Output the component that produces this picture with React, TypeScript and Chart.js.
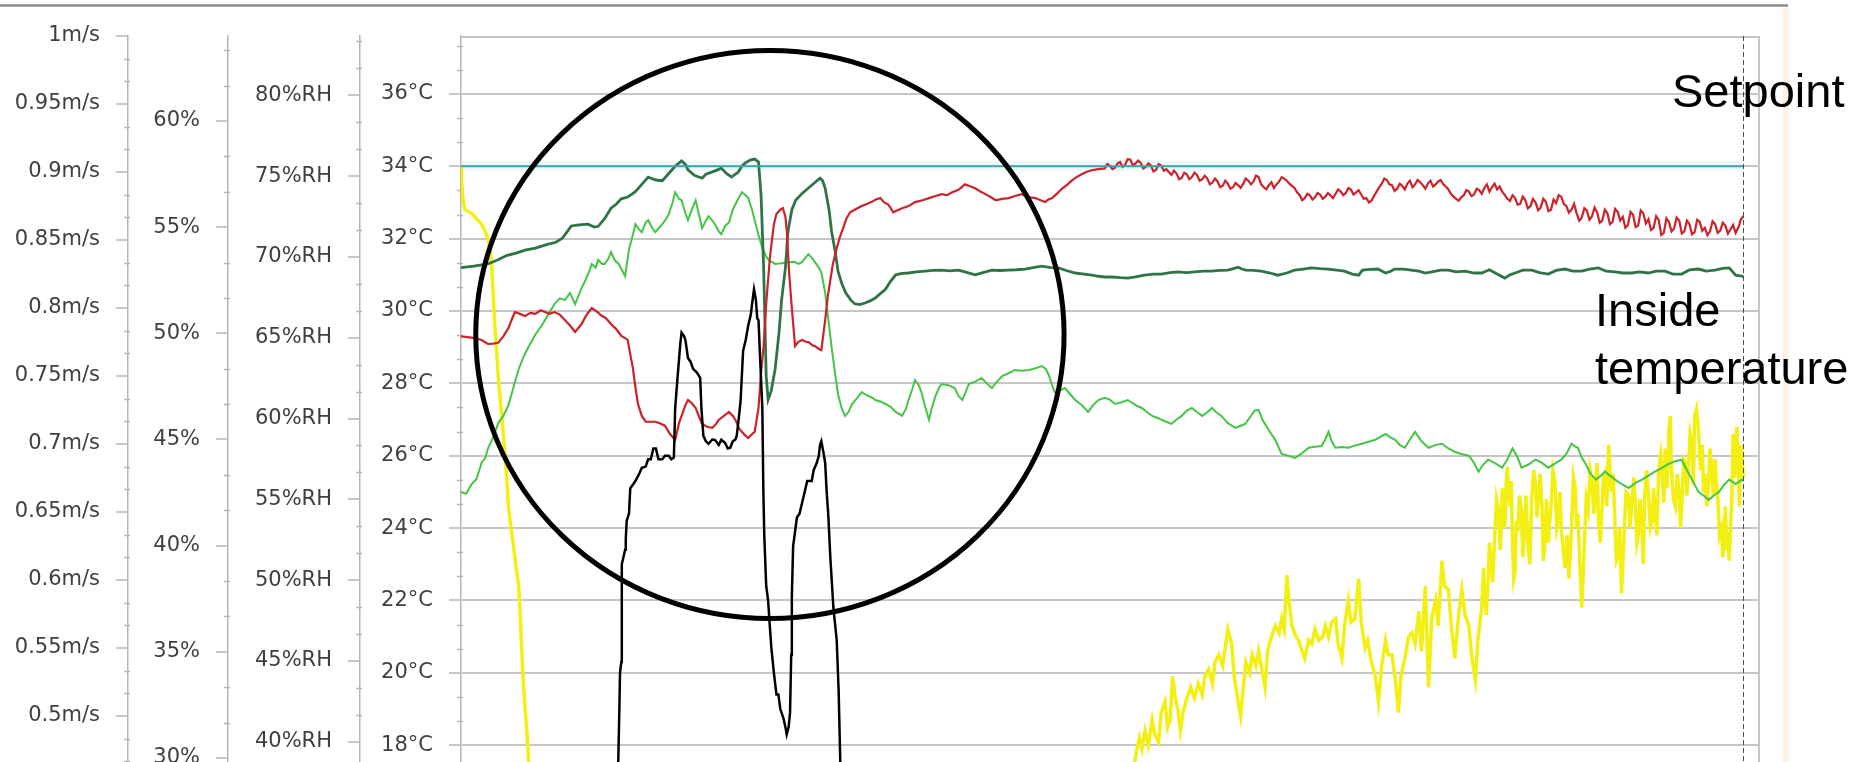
import { useEffect, useRef } from 'react';
import { Chart, registerables } from 'chart.js';

Chart.register(...registerables);

// Major tick values of the four stacked left axes
const velocityTicks = [1, 0.95, 0.9, 0.85, 0.8, 0.75, 0.7, 0.65, 0.6, 0.55, 0.5];
const percentTicks = [60, 55, 50, 45, 40, 35, 30];
const humidityTicks = [80, 75, 70, 65, 60, 55, 50, 45, 40];
const temperatureTicks = [36, 34, 32, 30, 28, 26, 24, 22, 20, 18];

// Axis ranges [min, max]
const velocityRange = [0.4519, 1.0];
const percentRange = [28.9, 64.0];
const humidityRange = [37.55, 83.67];
const temperatureRange = [17.0, 37.6];
const timeRange = [0, 1013];
const cursorTime = 1000;

// Series: [time, °C]
const setpoint: [number, number][] = [[0, 34], [1000, 34]];

const darkGreen: [number, number][] = [
  [0, 31.2], [10, 31.24], [21, 31.3], [28, 31.4], [36, 31.54], [43, 31.6], [50, 31.68], [58, 31.74],
  [68, 31.85], [74, 31.9], [79, 32.01], [83, 32.2], [86, 32.35], [92, 32.38], [99, 32.4], [104, 32.32],
  [107, 32.34], [112, 32.55], [117, 32.84], [121, 32.95], [125, 33.1], [130, 33.15], [136, 33.3],
  [141, 33.5], [146, 33.7], [152, 33.62], [157, 33.6], [162, 33.8], [167, 34.0], [172, 34.15],
  [175, 34.05], [177, 33.9], [182, 33.75], [188, 33.67], [191, 33.78], [195, 33.83], [200, 33.9],
  [203, 33.95], [207, 33.8], [211, 33.7], [214, 33.78], [216, 33.83], [219, 34.0], [222, 34.1],
  [226, 34.18], [229, 34.2], [232, 34.12], [234, 33.2], [236, 31.2], [238, 28.2], [239.5, 27.55],
  [242, 27.8], [245, 28.4], [248, 29.4], [250, 30.3], [253, 31.2], [255, 32.2], [258, 32.8],
  [261, 33.06], [266, 33.25], [271, 33.4], [276, 33.55], [280, 33.67], [282, 33.6], [284, 33.39],
  [287, 32.8], [289, 32.2], [292, 31.6], [294, 31.1], [297, 30.75], [300, 30.5], [304, 30.3],
  [307, 30.2], [311, 30.18], [315, 30.22], [319, 30.28], [323, 30.36], [327, 30.48], [331, 30.6],
  [335, 30.82], [339, 31.0], [344, 31.04], [349, 31.05], [355, 31.08], [362, 31.1], [368, 31.12],
  [375, 31.13], [381, 31.11], [388, 31.13], [395, 31.06], [401, 31.0], [407, 31.06], [414, 31.13],
  [420, 31.12], [427, 31.13], [433, 31.14], [440, 31.16], [446, 31.2], [453, 31.24], [460, 31.2],
  [466, 31.19], [472, 31.12], [479, 31.05], [486, 31.02], [492, 30.99], [497, 30.96], [502, 30.94],
  [508, 30.94], [514, 30.92], [520, 30.91], [527, 30.95], [533, 30.99], [540, 31.02], [546, 31.02],
  [553, 31.06], [559, 31.08], [566, 31.06], [572, 31.08], [579, 31.1], [585, 31.1], [592, 31.12],
  [598, 31.13], [603, 31.18], [606, 31.21], [609, 31.16], [612, 31.13], [618, 31.12], [624, 31.1],
  [631, 31.05], [637, 30.99], [644, 31.05], [650, 31.13], [657, 31.16], [663, 31.19], [670, 31.17],
  [676, 31.16], [683, 31.13], [689, 31.1], [695, 31.02], [700, 30.99], [703, 31.13], [709, 31.15],
  [715, 31.16], [721, 31.05], [725, 31.1], [728, 31.16], [735, 31.16], [741, 31.13], [747, 31.1],
  [752, 31.05], [758, 31.09], [764, 31.13], [770, 31.13], [776, 31.08], [783, 31.1], [790, 31.05],
  [796, 31.05], [802, 31.14], [808, 31.02], [814, 30.91], [818, 31.0], [822, 31.05], [828, 31.13],
  [835, 31.13], [841, 31.06], [848, 31.02], [854, 31.12], [861, 31.16], [867, 31.1], [874, 31.1],
  [880, 31.16], [887, 31.19], [893, 31.1], [900, 31.08], [906, 31.05], [913, 31.05], [919, 31.08],
  [926, 31.05], [932, 31.1], [939, 31.1], [945, 31.02], [952, 31.02], [958, 31.14], [965, 31.16],
  [971, 31.1], [978, 31.13], [984, 31.18], [989, 31.19], [994, 30.99], [1000, 30.96],
];

const lightGreen: [number, number][] = [
  [0, 25.0], [4, 24.95], [8, 25.2], [12, 25.35], [16, 25.8], [19, 25.95], [21, 26.2], [25, 26.5],
  [29, 26.9], [33, 27.1], [37, 27.4], [41, 27.9], [45, 28.4], [49, 28.75], [52.5, 29.0], [58, 29.35],
  [63, 29.6], [68, 29.9], [73, 30.2], [77, 30.35], [81, 30.3], [85, 30.5], [89, 30.19], [93, 30.55],
  [97, 30.85], [100, 31.1], [102, 31.3], [105, 31.2], [107, 31.41], [110, 31.3], [112, 31.3],
  [115, 31.45], [117, 31.63], [120, 31.4], [123, 31.3], [126, 31.1], [128, 30.96], [131, 31.7],
  [134, 32.1], [136, 32.4], [139, 32.25], [141, 32.18], [144, 32.45], [146, 32.51], [149, 32.3],
  [151.5, 32.18], [154, 32.28], [157, 32.4], [160, 32.55], [162, 32.68], [165, 33.0], [167, 33.28],
  [170, 33.1], [172, 33.06], [175, 32.7], [177, 32.51], [180, 32.8], [183, 33.06], [186, 32.6],
  [188, 32.29], [191, 32.5], [193, 32.62], [196, 32.5], [198, 32.4], [201, 32.2], [203, 32.12],
  [206, 32.35], [209, 32.45], [212, 32.8], [214, 32.95], [217, 33.15], [219, 33.28], [222, 33.2],
  [224, 33.12], [227, 32.8], [229, 32.51], [232, 32.1], [235, 31.74], [238, 31.5], [240, 31.41],
  [245, 31.3], [250, 31.32], [255, 31.35], [260, 31.36], [263, 31.3], [266, 31.35], [268, 31.45],
  [271, 31.57], [274, 31.45], [276, 31.35], [279, 31.2], [281, 31.07], [284, 30.5], [286.5, 29.75],
  [289, 29.0], [292, 28.2], [294, 27.7], [297, 27.3], [299.5, 27.1], [302, 27.2], [305, 27.43],
  [309, 27.6], [312.5, 27.76], [315, 27.7], [318, 27.65], [321, 27.6], [323, 27.54], [327, 27.5],
  [331, 27.43], [335, 27.35], [339, 27.21], [344, 27.1], [347, 27.3], [349, 27.54], [352, 27.85],
  [354, 28.09], [357, 27.95], [359, 27.76], [362, 27.35], [365, 26.99], [367, 27.3], [370, 27.65],
  [373, 27.9], [375, 27.98], [380, 27.95], [385, 27.87], [388, 27.65], [391, 27.54], [394, 27.8],
  [396, 27.98], [401, 28.05], [406, 28.15], [410, 28.0], [414, 27.87], [418, 28.05], [422, 28.2],
  [427, 28.28], [432, 28.37], [437, 28.35], [443, 28.37], [448, 28.42], [453, 28.48], [456, 28.4],
  [458, 28.26], [461, 27.95], [463, 27.76], [467, 27.8], [471, 27.87], [475, 27.7], [479, 27.54],
  [484, 27.4], [489, 27.21], [493, 27.4], [497, 27.54], [502, 27.6], [506, 27.55], [510, 27.43],
  [515, 27.48], [520, 27.54], [526, 27.4], [531, 27.32], [535, 27.2], [539, 27.1], [543, 27.05],
  [546.5, 26.99], [550, 26.94], [554, 26.88], [558, 27.0], [562, 27.1], [566, 27.25], [570, 27.32],
  [574, 27.2], [578, 27.1], [582, 27.2], [585.5, 27.32], [589, 27.2], [593, 27.1], [598, 26.9],
  [604, 26.77], [608, 26.83], [611.5, 26.88], [615, 27.05], [619, 27.25], [622, 27.27], [625, 27.0],
  [627, 26.88], [631, 26.65], [635, 26.44], [638, 26.2], [640, 26.05], [645, 26.0], [650.5, 25.94],
  [655, 26.05], [661, 26.22], [666, 26.25], [671, 26.27], [674, 26.45], [676.5, 26.66], [679, 26.4],
  [682, 26.22], [687, 26.24], [692, 26.22], [697, 26.28], [702.5, 26.33], [707, 26.38], [713, 26.44],
  [717, 26.52], [721, 26.6], [725, 26.5], [728.5, 26.44], [732, 26.3], [736, 26.22], [740, 26.45],
  [744, 26.66], [749, 26.4], [754.5, 26.22], [760, 26.3], [765, 26.33], [770, 26.2], [775, 26.11],
  [780, 26.05], [786, 26.0], [790, 25.8], [793.5, 25.56], [797, 25.75], [801, 25.89], [806, 25.8],
  [812, 25.67], [816, 25.9], [820, 26.2], [824, 25.95], [827, 25.67], [832, 25.75], [838, 25.89],
  [843, 25.8], [848, 25.67], [853, 25.78], [858, 25.89], [862, 26.05], [866, 26.33], [869, 26.25],
  [871, 26.22], [874, 25.95], [877, 25.78], [881, 25.5], [885, 25.34], [889, 25.45], [892, 25.56],
  [896, 25.45], [900, 25.34], [905, 25.22], [910.5, 25.11], [916, 25.25], [921, 25.34], [926, 25.45],
  [931, 25.56], [936, 25.65], [942, 25.78], [947, 25.85], [952, 25.89], [956, 25.6], [960, 25.34],
  [965, 25.0], [969, 24.9], [973, 24.78], [977, 24.9], [981, 25.0], [985, 25.2], [989, 25.34],
  [994, 25.22], [999, 25.34], [1000, 25.3],
];

const red: [number, number][] = [
  [0, 29.3], [5, 29.28], [11, 29.25], [16, 29.2], [21, 29.09], [25, 29.1], [29, 29.12], [33, 29.3],
  [37, 29.53], [40, 29.8], [42, 29.97], [46, 29.92], [50, 29.86], [54, 29.95], [58, 29.92], [62, 30.02],
  [65.5, 29.97], [69, 29.92], [73, 29.97], [77, 29.9], [81, 29.75], [85, 29.6], [89, 29.42], [92, 29.55],
  [94, 29.64], [98, 29.9], [102, 30.08], [106, 29.98], [110, 29.86], [113, 29.8], [117, 29.64],
  [121, 29.5], [125, 29.31], [128, 29.25], [130, 29.2], [132, 28.8], [134, 28.43], [136, 27.9],
  [138, 27.43], [141, 27.1], [144, 26.94], [148, 26.94], [151.5, 26.94], [155, 26.9], [159, 26.83],
  [163, 26.6], [167, 26.44], [170, 26.9], [172, 27.1], [175, 27.4], [177, 27.54], [180, 27.45],
  [183, 27.32], [186, 27.05], [188, 26.88], [192, 26.8], [196, 26.77], [199, 26.88], [201, 26.99],
  [205, 27.1], [209, 27.21], [212, 27.1], [214, 26.99], [217, 26.75], [219, 26.66], [222, 26.55],
  [224, 26.49], [227, 26.6], [229, 26.66], [232, 27.32], [234, 28.3], [236, 29.03], [238, 30.2],
  [241, 31.52], [244, 32.4], [246, 32.68], [249, 32.8], [251, 32.84], [253, 32.6], [254, 32.23],
  [256, 31.0], [258, 30.08], [260.5, 29.03], [263, 29.15], [266, 29.2], [269, 29.15], [271, 29.14],
  [274, 29.05], [276, 29.03], [279, 28.95], [281, 28.92], [284, 29.75], [286, 30.4], [288, 30.85],
  [290, 31.3], [293, 31.74], [295.5, 32.05], [298, 32.29], [300.5, 32.55], [303.4, 32.73], [307, 32.8],
  [312.5, 32.9], [316, 32.95], [320, 33.01], [323.5, 33.08], [327, 33.12], [330, 33.0], [333, 32.95],
  [335, 32.85], [337, 32.73], [340, 32.78], [344, 32.84], [349, 32.9], [354, 33.01], [360, 33.06],
  [365, 33.12], [370, 33.18], [375, 33.23], [379, 33.2], [383, 33.28], [388, 33.35], [393, 33.5],
  [397, 33.45], [401, 33.39], [405, 33.3], [409, 33.23], [413, 33.15], [417, 33.06], [422, 33.1],
  [427, 33.12], [432, 33.18], [437, 33.23], [442, 33.15], [448, 33.12], [452, 33.06], [455.5, 33.01],
  [458, 33.08], [461, 33.12], [465, 33.25], [469, 33.39], [473, 33.5], [476.5, 33.61], [480, 33.7],
  [484, 33.78], [488, 33.85], [492, 33.89], [497, 33.92], [502, 33.94], [504, 34.06], [506, 34.02],
  [508, 33.92], [510, 33.96], [512, 34.08], [514, 34.12], [516, 33.98], [518, 34.05], [520, 34.2],
  [522, 34.18], [524, 34.02], [526, 34.08], [528, 34.16], [530, 34.1], [532, 33.94], [534, 33.98],
  [536, 34.08], [538, 34.02], [540, 33.86], [542, 33.9], [544, 34.06], [546, 34.02], [548, 33.88],
  [550, 33.92], [552, 33.84], [554, 33.76], [556, 33.88], [558, 33.8], [560, 33.64], [562, 33.68],
  [564, 33.82], [566, 33.78], [568, 33.64], [570, 33.7], [572, 33.82], [574, 33.76], [576, 33.6],
  [578, 33.64], [580, 33.74], [582, 33.66], [584, 33.5], [586, 33.55], [588, 33.66], [590, 33.58],
  [592, 33.42], [594, 33.46], [596, 33.6], [598, 33.52], [600, 33.38], [602, 33.42], [604, 33.54],
  [606, 33.48], [608, 33.4], [610, 33.52], [612, 33.66], [614, 33.6], [616, 33.5], [618, 33.58],
  [620, 33.74], [622, 33.7], [624, 33.5], [626, 33.42], [628, 33.36], [630, 33.48], [632, 33.56],
  [634, 33.4], [636, 33.5], [638, 33.58], [640, 33.7], [642, 33.66], [644, 33.6], [646, 33.52],
  [648, 33.46], [650, 33.4], [652, 33.28], [654, 33.2], [656, 33.06], [658, 33.12], [660, 33.24],
  [662, 33.2], [664, 33.08], [666, 33.14], [668, 33.26], [670, 33.22], [672, 33.1], [674, 33.16],
  [676, 33.26], [678, 33.2], [680, 33.12], [682, 33.24], [684, 33.36], [686, 33.3], [688, 33.2],
  [690, 33.26], [692, 33.4], [694, 33.36], [696, 33.22], [698, 33.28], [700, 33.34], [702, 33.22],
  [704, 33.1], [706, 33.12], [708, 33.0], [710, 33.05], [712, 33.18], [714, 33.3], [716, 33.42],
  [718, 33.52], [720, 33.66], [722, 33.62], [724, 33.5], [726, 33.48], [728, 33.32], [730, 33.38],
  [732, 33.52], [734, 33.46], [736, 33.36], [738, 33.52], [740, 33.6], [742, 33.42], [744, 33.5],
  [746, 33.62], [748, 33.56], [750, 33.48], [752, 33.38], [754, 33.52], [756, 33.6], [758, 33.44],
  [760, 33.5], [762, 33.58], [764, 33.62], [766, 33.5], [768, 33.44], [770, 33.36], [772, 33.24],
  [774, 33.16], [776, 33.1], [778, 33.05], [780, 33.14], [782, 33.2], [784, 33.34], [786, 33.3],
  [788, 33.18], [790, 33.22], [792, 33.38], [794, 33.34], [796, 33.24], [798, 33.4], [800, 33.5],
  [802, 33.3], [804, 33.42], [806, 33.52], [808, 33.36], [810, 33.44], [812, 33.3], [814, 33.2],
  [816, 33.1], [818, 33.04], [820, 33.2], [822, 33.12], [824, 32.94], [826, 32.96], [828, 33.16],
  [830, 33.06], [832, 32.84], [834, 32.9], [836, 33.1], [838, 33.0], [840, 32.78], [842, 32.86],
  [844, 33.1], [846, 33.02], [848, 32.76], [850, 32.8], [852, 33.08], [854, 32.98], [856, 33.2],
  [858, 33.16], [860, 32.96], [862, 32.9], [864, 32.72], [866, 32.8], [868, 32.96], [870, 32.7],
  [872, 32.5], [874, 32.58], [876, 32.84], [878, 32.78], [880, 32.52], [882, 32.62], [884, 32.86],
  [886, 32.72], [888, 32.44], [890, 32.5], [892, 32.8], [894, 32.7], [896, 32.4], [898, 32.46],
  [900, 32.82], [902, 32.74], [904, 32.5], [906, 32.6], [908, 32.3], [910, 32.38], [912, 32.74],
  [914, 32.66], [916, 32.32], [918, 32.36], [920, 32.78], [922, 32.7], [924, 32.42], [926, 32.54],
  [928, 32.24], [930, 32.3], [932, 32.62], [934, 32.52], [936, 32.1], [938, 32.16], [940, 32.56],
  [942, 32.46], [944, 32.2], [946, 32.28], [948, 32.58], [950, 32.5], [952, 32.14], [954, 32.2],
  [956, 32.5], [958, 32.4], [960, 32.12], [962, 32.18], [964, 32.52], [966, 32.46], [968, 32.22],
  [970, 32.3], [972, 32.1], [974, 32.2], [976, 32.48], [978, 32.4], [980, 32.16], [982, 32.22],
  [984, 32.44], [986, 32.36], [988, 32.14], [990, 32.26], [992, 32.38], [994, 32.16], [996, 32.3],
  [997, 32.4], [998, 32.52], [1000, 32.62],
];

const black: [number, number][] = [
  [0, 16.5], [122, 16.5], [123.5, 19.0], [124, 20.0], [125, 20.3], [125.4, 23.0], [128, 23.4],
  [128.5, 23.7], [129.2, 24.2], [131, 24.4], [132, 25.1], [134, 25.2], [136, 25.3], [139, 25.5],
  [141, 25.67], [144, 25.7], [146, 25.9], [148, 25.9], [150, 26.2], [152, 26.2], [154, 25.9],
  [157, 25.9], [159, 26.0], [162, 26.0], [164, 25.9], [166, 25.95], [167, 27.3], [168.5, 28.0],
  [170, 28.65], [171, 29.1], [172, 29.4], [174, 29.3], [175, 29.2], [177, 28.7], [179, 28.6],
  [181, 28.4], [184, 28.3], [186.5, 28.15], [187.5, 27.3], [189, 26.55], [191, 26.4], [193, 26.33],
  [196, 26.45], [198, 26.44], [201, 26.3], [203, 26.44], [206, 26.35], [208, 26.2], [210, 26.22],
  [212, 26.4], [214, 26.45], [215, 26.55], [216.5, 27.0], [218, 27.5], [219, 28.2], [220, 28.9],
  [222, 29.2], [224, 29.6], [226, 29.9], [227, 30.2], [228.5, 30.6], [230, 30.3], [231, 29.8],
  [232, 29.75], [233.5, 28.5], [235, 27.3], [235.8, 25.0], [236.5, 23.8], [238, 22.4], [239.5, 22.0],
  [241, 21.2], [242, 20.7], [244, 20.0], [246, 19.4], [247.5, 19.4], [249, 19.0], [251.4, 18.75],
  [253, 18.5], [254, 18.3], [255.5, 18.5], [256.6, 18.9], [257.5, 20.5], [258, 22.1], [259, 23.5],
  [260.5, 23.9], [262, 24.3], [264, 24.4], [266, 24.7], [268, 25.0], [270, 25.3], [273.5, 25.3],
  [275, 25.6], [277.4, 25.8], [279, 26.0], [280, 26.3], [281, 26.4], [282.6, 26.1], [284, 25.8],
  [285, 25.1], [286.5, 24.3], [288, 23.2], [290.4, 21.8], [293, 20.9], [294.5, 19.5], [295.6, 17.8],
  [296.5, 16.5], [1000, 16.5],
];

const yellow: [number, number | null][] = [
  [0, 34.0], [0.5, 33.6], [1.5, 33.1], [3, 32.8], [5.5, 32.75], [8.3, 32.7], [12, 32.55], [16, 32.4],
  [19, 32.2], [21, 32.0], [23, 31.6], [24, 31.2], [25.5, 30.2], [26.5, 29.5], [28, 28.8], [29, 28.2],
  [31.5, 27.2], [34, 26.2], [36, 25.2], [37, 24.6], [39, 24.0], [41, 23.5], [43, 22.9], [45, 22.4],
  [46.3, 21.5], [47.3, 20.7], [48.5, 19.8], [50, 19.0], [51.5, 18.3], [52.5, 17.7], [54, 16.5],
  [55, null],
  [522, 16.5], [526, 17.7], [529, 18.2], [531, 17.9], [533.5, 18.4], [536, 18.0], [539, 18.7],
  [541, 18.3], [544, 18.1], [546, 18.9], [549, 19.2], [551, 18.5], [553, 18.7], [555, 19.9],
  [557, 19.3], [559, 19.0], [561, 18.4], [563, 18.9], [566, 19.3], [569, 19.6], [572, 19.3],
  [575, 19.7], [578, 19.4], [580, 19.9], [583, 20.1], [586, 19.7], [588, 20.3], [591, 20.5],
  [594, 20.2], [596, 20.7], [598, 21.2], [601, 20.8], [603, 19.9], [606, 19.2], [608, 18.8],
  [610, 19.6], [612, 20.3], [615, 20.0], [617, 20.5], [620, 20.2], [622, 20.6], [625, 20.0],
  [627, 19.6], [629, 20.6], [632, 21.0], [635, 21.3], [638, 21.1], [640, 21.5], [642, 21.2],
  [644, 22.7], [646, 21.9], [648, 21.3], [651, 21.0], [653, 20.9], [656, 20.6], [658, 20.4],
  [661, 20.9], [663.5, 20.8], [666, 21.2], [669, 20.9], [672, 21.0], [674, 21.3], [676.5, 21.0],
  [679, 21.4], [682, 21.5], [684, 20.8], [687, 20.4], [689, 21.3], [692, 22.0], [694, 21.4],
  [697, 21.5], [700, 22.6], [702, 21.4], [705, 20.7], [707, 20.9], [710, 20.3], [713, 19.9],
  [715.5, 19.2], [718, 20.2], [721, 20.9], [723, 20.5], [726, 20.5], [729, 19.7], [731, 18.9],
  [733, 19.9], [736, 20.4], [739, 21.0], [741.5, 21.1], [744, 20.8], [747, 21.7], [749, 20.6],
  [752, 22.4], [754.5, 19.6], [757, 21.5], [760, 22.0], [762, 21.3], [765, 23.1], [767, 22.4],
  [770, 22.3], [772, 21.4], [775, 20.4], [778, 21.6], [780.5, 22.3], [783, 21.6], [786, 21.3],
  [788, 20.5], [791, 19.8], [793, 20.9], [796, 21.8], [797.5, 22.9], [798, 22.4], [799.5, 21.6],
  [801, 22.6], [802, 23.6], [803, 23.2], [804.5, 22.5], [806, 23.7], [807.5, 24.8], [809, 24.5],
  [810.5, 23.4], [812, 25.1], [813, 24.4], [814, 24.0], [815, 25.2], [816, 25.7], [817, 25.0],
  [818, 24.6], [819, 25.3], [820, 23.6], [821, 22.6], [822, 22.8], [823, 24.2], [824, 23.9],
  [825.5, 24.9], [827, 24.5], [828, 23.2], [829, 23.7], [830.5, 24.9], [832, 23.6], [833.5, 23.0],
  [835, 24.8], [836.5, 25.6], [838, 25.2], [839, 24.3], [840, 24.7], [841.5, 25.5], [843, 24.6],
  [844, 23.1], [845, 23.4], [846.5, 24.8], [848, 23.6], [849, 24.2], [850, 24.6], [851.5, 25.6],
  [853, 25.3], [854.5, 24.0], [856, 24.3], [857, 25.0], [858, 24.0], [859.5, 23.4], [861, 22.9],
  [862.5, 23.8], [864, 22.6], [865, 23.3], [866, 24.0], [867.5, 25.4], [869, 25.1], [870, 24.0],
  [871, 24.4], [872.5, 23.0], [874, 21.8], [875, 22.6], [876, 23.5], [877.5, 24.8], [879, 24.5],
  [880.5, 25.6], [882, 25.3], [883.5, 24.4], [885, 25.3], [886, 25.8], [887, 24.2], [888.5, 23.6],
  [890, 24.7], [891, 25.4], [892, 25.5], [893.5, 24.6], [895, 26.3], [896, 25.6], [897, 25.0],
  [898.5, 25.5], [900, 24.0], [901, 23.1], [902, 23.2], [903.5, 24.0], [905, 22.2], [906, 23.0],
  [907, 23.8], [908.5, 25.0], [910.5, 24.9], [911.5, 24.0], [913, 24.6], [914.5, 25.4], [916, 24.6],
  [917, 23.6], [918, 23.8], [919.5, 24.8], [921, 23.9], [922, 23.0], [923, 24.9], [924.5, 25.6],
  [926, 24.9], [927.5, 24.0], [929, 24.2], [930, 25.1], [931, 24.6], [932.5, 23.8], [934, 25.6],
  [935.5, 26.0], [937, 25.3], [938, 24.7], [939, 26.2], [940.5, 25.1], [942, 26.7], [943, 27.1],
  [944, 25.6], [945.5, 24.8], [947, 24.6], [948.5, 25.5], [950, 25.0], [951, 24.0], [952, 24.6],
  [953.5, 25.9], [955, 25.8], [956, 24.9], [957, 25.6], [958.5, 26.6], [960, 26.3], [961, 25.2],
  [962, 27.1], [963.5, 27.3], [965, 26.7], [966.5, 25.6], [968, 26.3], [969, 25.0], [970, 25.5],
  [971.5, 24.6], [973, 25.3], [974, 26.2], [975, 25.8], [976.5, 24.9], [978, 25.9], [979, 25.2],
  [980, 24.9], [981.5, 23.8], [983, 24.0], [984, 23.2], [985, 23.6], [986, 24.6], [987, 23.4],
  [988, 23.9], [989, 23.1], [990, 24.0], [991, 24.8], [992, 26.6], [993, 25.4], [994, 25.9],
  [995, 26.8], [996, 25.6], [997, 24.6], [998, 26.3], [999, 25.9], [1000, 25.4],
];

// Highlight ring, in data units (time, °C)
const ring = { time: 240.9, temp: 29.35, timeRadius: 229.4, tempRadius: 7.85 };

const AXIS_FONT = { family: 'DejaVu Sans', size: 21 };
const AXIS_TEXT = '#3f3f3f';
const AXIS_LINE = '#b6b6b6';

function sideAxis(
  range: number[],
  ticks: number[],
  unit: string,
  weight: number,
  width: number,
  onChart: boolean,
) {
  return {
    type: 'linear',
    position: 'left',
    min: range[0],
    max: range[1],
    weight,
    afterBuildTicks: (scale: any) => {
      scale.ticks = ticks.map((value) => ({ value }));
    },
    afterFit: (scale: any) => {
      scale.width = width;
    },
    border: { display: true, color: AXIS_LINE, width: 1.5 },
    grid: {
      display: true,
      drawOnChartArea: onChart,
      drawTicks: true,
      tickLength: 12,
      color: '#c6c6c6',
      lineWidth: 2,
      tickColor: AXIS_LINE,
      tickWidth: 1.5,
    },
    ticks: {
      autoSkip: false,
      padding: 16,
      color: AXIS_TEXT,
      font: AXIS_FONT,
      callback: (value: number) => `${value}${unit}`,
    },
  };
}

// Minor ticks: three divisions between major ticks on every left axis
const minorSteps: [string, number][] = [
  ['velocity', 0.05 / 3],
  ['percent', 5 / 3],
  ['humidity', 5 / 3],
  ['temp', 2 / 3],
];

const axisDecor = {
  id: 'axisDecor',
  beforeDatasetsDraw(chart: any) {
    const { ctx, chartArea: a } = chart;
    ctx.save();
    ctx.strokeStyle = '#c6c6c6';
    ctx.lineWidth = 2;
    ctx.beginPath();
    ctx.moveTo(a.left, a.top + 1);
    ctx.lineTo(a.right - 1, a.top + 1);
    ctx.lineTo(a.right - 1, a.bottom);
    ctx.stroke();

    ctx.strokeStyle = AXIS_LINE;
    ctx.lineWidth = 1.5;
    for (const [id, step] of minorSteps) {
      const s = chart.scales[id];
      const first = Math.ceil(s.min / step - 1e-6);
      const last = Math.floor(s.max / step + 1e-6);
      for (let k = first; k <= last; k++) {
        if (k % 3 === 0) continue;
        const y = Math.round(s.getPixelForValue(k * step)) + 0.5;
        ctx.beginPath();
        ctx.moveTo(s.right - 4, y);
        ctx.lineTo(s.right + 2, y);
        ctx.stroke();
      }
    }
    ctx.restore();
  },
  afterDatasetsDraw(chart: any) {
    const { ctx, chartArea: a } = chart;
    const xs = chart.scales.x;
    const ts = chart.scales.temp;
    ctx.save();
    // time cursor
    const cx = Math.round(xs.getPixelForValue(cursorTime)) + 0.5;
    ctx.strokeStyle = '#4a4a4a';
    ctx.lineWidth = 1;
    ctx.setLineDash([5, 3]);
    ctx.beginPath();
    ctx.moveTo(cx, a.top);
    ctx.lineTo(cx, a.bottom);
    ctx.stroke();
    ctx.setLineDash([]);

    // highlight ring
    const ex = xs.getPixelForValue(ring.time);
    const ey = ts.getPixelForValue(ring.temp);
    const rx = xs.getPixelForValue(ring.time + ring.timeRadius) - ex;
    const ry = ey - ts.getPixelForValue(ring.temp + ring.tempRadius);
    ctx.strokeStyle = '#000';
    ctx.lineWidth = 5;
    ctx.beginPath();
    ctx.ellipse(ex, ey, rx, ry, 0, 0, Math.PI * 2);
    ctx.stroke();
    ctx.restore();
  },
};

function series(points: [number, number | null][], color: string, width: number) {
  return {
    data: points.map(([x, y]) => ({ x, y })),
    borderColor: color,
    borderWidth: width,
    pointRadius: 0,
    tension: 0,
    fill: false,
    spanGaps: false,
    xAxisID: 'x',
    yAxisID: 'temp',
  };
}

const noteStyle = (left: number, top: number): any => ({
  position: 'absolute',
  left,
  top,
  fontFamily: '"Liberation Sans", Arial, sans-serif',
  fontSize: 47,
  lineHeight: '58px',
  color: '#000',
  whiteSpace: 'nowrap',
});

export default function App() {
  const canvasRef = useRef<HTMLCanvasElement>(null);

  useEffect(() => {
    const chart = new Chart(canvasRef.current as HTMLCanvasElement, {
      type: 'line',
      data: {
        datasets: [
          series(black, '#000000', 2.5),
          series(setpoint, '#45a0b2', 2),
          series(red, '#cc2229', 2.2),
          series(darkGreen, '#2f7446', 2.8),
          series(lightGreen, '#45c545', 2),
          series(yellow, '#f4ef12', 3.5),
          series(setpoint, 'rgba(200,240,247,0.35)', 10),
        ] as any,
      },
      options: {
        responsive: false,
        animation: false,
        events: [],
        layout: { padding: { left: 0, top: 36, right: 104, bottom: 20 } },
        plugins: { legend: { display: false }, tooltip: { enabled: false } },
        scales: {
          x: { type: 'linear', display: false, min: timeRange[0], max: timeRange[1] },
          velocity: sideAxis(velocityRange, velocityTicks, 'm/s', 4, 128, false),
          percent: sideAxis(percentRange, percentTicks, '%', 3, 100, false),
          humidity: sideAxis(humidityRange, humidityTicks, '%RH', 2, 132, false),
          temp: sideAxis(temperatureRange, temperatureTicks, '°C', 1, 101, true),
        } as any,
      },
      plugins: [axisDecor],
    });
    return () => chart.destroy();
  }, []);

  return (
    <div
      style={{
        position: 'absolute',
        left: 0,
        top: 0,
        width: 1864,
        height: 762,
        overflow: 'hidden',
        background: '#ffffff',
      }}
    >
      <div
        style={{
          position: 'absolute',
          left: 0,
          top: 4,
          width: 1788,
          height: 3,
          background: 'linear-gradient(#b4b4b4, #8a8a8a, #bdbdbd)',
        }}
      />
      <div
        style={{
          position: 'absolute',
          left: 1783,
          top: 8,
          width: 6,
          bottom: 0,
          background: '#fdf1e6',
        }}
      />
      <canvas
        ref={canvasRef}
        width={1864}
        height={810}
        style={{ position: 'absolute', left: 0, top: 0, width: 1864, height: 810 }}
      />
      <div style={noteStyle(1672, 62)}>Setpoint</div>
      <div style={noteStyle(1595, 281)}>
        Inside
        <br />
        temperature
      </div>
    </div>
  );
}
